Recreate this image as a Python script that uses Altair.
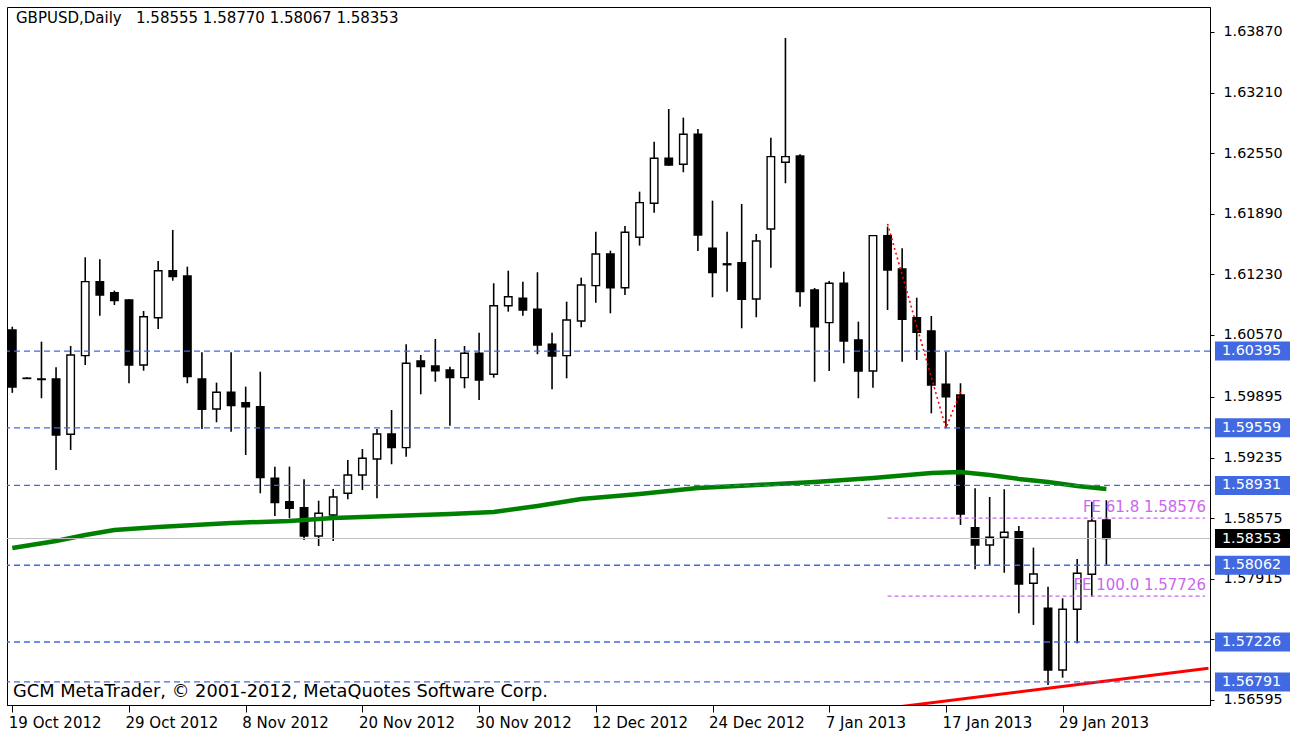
import altair as alt
import pandas as pd

# ---------------- data ----------------
opens = [1.60624, 1.60100, 1.60091, 1.60091, 1.59489, 1.60345, 1.61151, 1.61031, 1.60951, 1.60243,
         1.60758, 1.61270, 1.61213, 1.60091, 1.59764, 1.59946, 1.59833, 1.59789, 1.59009, 1.58754,
         1.58689, 1.58381, 1.58610, 1.58846, 1.59045, 1.59220, 1.59492, 1.59343, 1.60287, 1.60232,
         1.60189, 1.60105, 1.60371, 1.60142, 1.60889, 1.60970, 1.60850, 1.60469, 1.60345, 1.60723,
         1.61107, 1.61452, 1.61085, 1.61634, 1.62004, 1.62494, 1.62429, 1.62756, 1.61514, 1.61345,
         1.61357, 1.60962, 1.61724, 1.62451, 1.62520, 1.61060, 1.60704, 1.61133, 1.60516, 1.60178,
         1.61652, 1.61289, 1.60758, 1.60614, 1.60033, 1.59917, 1.58471, 1.58283, 1.58367, 1.58428,
         1.57866, 1.57594, 1.56922, 1.57583, 1.57964, 1.58555]
highs = [1.60660, 1.60110, 1.60497, 1.60218, 1.60450, 1.61416, 1.61394, 1.61053, 1.60960, 1.60831,
         1.61376, 1.61714, 1.61314, 1.60382, 1.60051, 1.60382, 1.60007, 1.60170, 1.59136, 1.59136,
         1.58998, 1.58765, 1.58893, 1.59209, 1.59328, 1.59546, 1.59753, 1.60469, 1.60352, 1.60526,
         1.60225, 1.60450, 1.60595, 1.61133, 1.61270, 1.61151, 1.61253, 1.60595, 1.60933, 1.61194,
         1.61695, 1.61488, 1.61757, 1.62131, 1.62675, 1.63031, 1.62937, 1.62814, 1.62033, 1.61695,
         1.61997, 1.61670, 1.62719, 1.63805, 1.62538, 1.61082, 1.61158, 1.61259, 1.60715, 1.61660,
         1.61750, 1.61514, 1.60976, 1.60777, 1.60388, 1.60044, 1.58900, 1.58806, 1.58890, 1.58490,
         1.58254, 1.57829, 1.57702, 1.58130, 1.58754, 1.58770]
lows = [1.59940, 1.60090, 1.59881, 1.59100, 1.59318, 1.60243, 1.60780, 1.60897, 1.60044, 1.60181,
        1.60635, 1.61161, 1.60044, 1.59546, 1.59619, 1.59517, 1.59263, 1.58846, 1.58599, 1.58574,
        1.58337, 1.58272, 1.58326, 1.58781, 1.58882, 1.58792, 1.59162, 1.59245, 1.59924, 1.60061,
        1.59582, 1.59990, 1.59862, 1.60105, 1.60824, 1.60780, 1.60360, 1.59979, 1.60098, 1.60654,
        1.60922, 1.60806, 1.61006, 1.61543, 1.61902, 1.62411, 1.62342, 1.61485, 1.60981, 1.61042,
        1.60643, 1.60763, 1.61303, 1.62222, 1.60878, 1.60061, 1.60178, 1.60262, 1.59881, 1.59996,
        1.60842, 1.60279, 1.60298, 1.59717, 1.59554, 1.58501, 1.58018, 1.58054, 1.57981, 1.57539,
        1.57412, 1.56758, 1.56838, 1.57212, 1.57720, 1.58067]
closes = [1.60004, 1.60096, 1.60085, 1.59481, 1.60352, 1.61151, 1.61006, 1.60944, 1.60243, 1.60769,
          1.61270, 1.61205, 1.60116, 1.59761, 1.59946, 1.59800, 1.59789, 1.59016, 1.58744, 1.58683,
          1.58381, 1.58628, 1.58806, 1.59045, 1.59227, 1.59492, 1.59343, 1.60262, 1.60225, 1.60181,
          1.60105, 1.60371, 1.60080, 1.60889, 1.60987, 1.60842, 1.60461, 1.60341, 1.60733, 1.61115,
          1.61452, 1.61085, 1.61689, 1.62011, 1.62494, 1.62421, 1.62756, 1.61659, 1.61249, 1.61335,
          1.60959, 1.61594, 1.62512, 1.62512, 1.61042, 1.60660, 1.61133, 1.60505, 1.60178, 1.61652,
          1.61278, 1.60741, 1.60599, 1.60025, 1.59898, 1.58621, 1.58283, 1.58367, 1.58421, 1.57858,
          1.57967, 1.56922, 1.57583, 1.57975, 1.58544, 1.58353]

ma_bars = [0, 3, 5, 7, 10, 15, 19, 22, 26, 30, 33, 36, 39, 43, 47, 51, 55, 59, 63, 65, 67, 69, 71, 73, 75]
ma_vals = [1.58250, 1.58327, 1.58392, 1.58446, 1.58479, 1.58523, 1.58544, 1.58577, 1.58599, 1.58621,
           1.58642, 1.58708, 1.58784, 1.58838, 1.58904, 1.58936, 1.58969, 1.59013, 1.59067, 1.59078,
           1.59045, 1.59002, 1.58969, 1.58925, 1.58893]

trend_bars = [60, 82]
trend_vals = [1.56505, 1.56940]

fibo_bars = [60, 64, 65]
fibo_vals = [1.61780, 1.59555, 1.59951]

level_prices = [1.60395, 1.59559, 1.58931, 1.58062, 1.57226, 1.56791]
current_price = 1.58353
fe_names = ["FE 61.8 1.58576", "FE 100.0 1.57726"]
fe_prices = [1.58576, 1.57726]
fe_start = 60

tick_values = [1.63870, 1.63210, 1.62550, 1.61890, 1.61230, 1.60570, 1.59895,
               1.59235, 1.58575, 1.57915, 1.57255, 1.56595]
date_bars = [0, 8, 16, 24, 32, 40, 48, 56, 64, 72]
date_labels = ["19 Oct 2012", "29 Oct 2012", "8 Nov 2012", "20 Nov 2012", "30 Nov 2012",
               "12 Dec 2012", "24 Dec 2012", "7 Jan 2013", "17 Jan 2013", "29 Jan 2013"]

header_name = "GBPUSD,Daily"
header_ohlc = ["1.58555", "1.58770", "1.58067", "1.58353"]
header = header_name + "\u00a0\u00a0\u00a0" + "\u00a0".join(header_ohlc)
copyright_text = "GCM MetaTrader, \u00a9 2001-2012, MetaQuotes Software Corp."

# ---------------- layout ----------------
W, H = 1203, 698
XMIN = -0.02
XMAX = XMIN + W / 14.71
YMIN, YMAX = 1.56540, 1.64142
PX = (YMAX - YMIN) / H
FONT = "DejaVu Sans"
FS = 14.3
BLUE = "#4169E1"
VIOLET = "#CC66EE"

candles = pd.DataFrame({"i": list(range(len(opens))), "o": opens, "h": highs, "l": lows, "c": closes})
ma_df = pd.DataFrame({"i": ma_bars, "p": ma_vals})
trend_df = pd.DataFrame({"i": trend_bars, "p": trend_vals})
fibo_df = pd.DataFrame({"i": fibo_bars, "p": fibo_vals})
levels_df = pd.DataFrame({"p": level_prices, "lab": [f"{v:.5f}" for v in level_prices]})
cur_df = pd.DataFrame({"p": [current_price], "lab": [f"{current_price:.5f}"]})
fe_df = pd.DataFrame({"i": [fe_start] * len(fe_prices), "i2": [XMAX] * len(fe_prices),
                      "p": fe_prices, "lab": fe_names})
head_df = pd.DataFrame({"t": [header]})
copy_df = pd.DataFrame({"t": [copyright_text]})

xs = alt.Scale(domain=[XMIN, XMAX], nice=False, zero=False)
ys = alt.Scale(domain=[YMIN, YMAX], nice=False, zero=False)

label_arr = "[" + ",".join(f"'{d}'" for d in date_labels) + "]"
x_axis = alt.Axis(values=date_bars, labelExpr=f"{label_arr}[round(datum.value/8)]",
                  labelAlign="left", labelBaseline="top", tickSize=7, labelPadding=3,
                  labelOffset=-4,
                  labelFont=FONT, labelFontSize=15, labelColor="black", tickColor="black",
                  domainColor="black", grid=False, title=None, labelFlush=False,
                  labelOverlap=False, labelBound=False)
y_axis = alt.Axis(orient="right", values=tick_values, format=".5f", tickSize=4, labelPadding=9,
                  labelFont=FONT, labelFontSize=FS, labelColor="black", tickColor="black",
                  domainColor="black", grid=False, title=None, labelOverlap=False,
                  labelFlush=False, labelBound=False)


def X(field):
    return alt.X(field, scale=xs, axis=x_axis, title=None)


def Y(field):
    return alt.Y(field, scale=ys, axis=y_axis, title=None)


wicks = alt.Chart(candles).mark_rule(color="black", strokeWidth=1.6, clip=True).encode(
    x=X("i:Q"), y=Y("l:Q"), y2="h:Q")
bodies = alt.Chart(candles).mark_bar(size=7.5, stroke="black", strokeWidth=1.4, clip=True).encode(
    x=X("i:Q"), y=Y("o:Q"), y2="c:Q",
    fill=alt.condition("datum.c < datum.o", alt.value("black"), alt.value("white")),
)
ma = alt.Chart(ma_df).mark_line(color="#008000", strokeWidth=4.5, clip=True).encode(
    x=X("i:Q"), y=Y("p:Q"))
trend = alt.Chart(trend_df).mark_line(color="#FF0000", strokeWidth=3, clip=True).encode(
    x=X("i:Q"), y=Y("p:Q"))
levels = alt.Chart(levels_df).mark_rule(color=BLUE, strokeWidth=1.3, strokeDash=[6, 4]).encode(
    y=Y("p:Q"))
cur = alt.Chart(cur_df).mark_rule(color="#C0C0C0", strokeWidth=1).encode(y=Y("p:Q"))
fe_lines = alt.Chart(fe_df).mark_rule(color=VIOLET, strokeWidth=1.2, strokeDash=[4, 3]).encode(
    x=X("i:Q"), x2="i2:Q", y=Y("p:Q"))
fibo = alt.Chart(fibo_df).mark_line(color="#FF0000", strokeWidth=1.6, strokeDash=[2, 3]).encode(
    x=X("i:Q"), y=Y("p:Q"))
fe_text = alt.Chart(fe_df).mark_text(align="right", baseline="bottom", dy=-3, font=FONT,
                                     fontSize=15, color=VIOLET).encode(
    x=alt.value(1199), y=Y("p:Q"), text="lab:N")

box_half = 9.5 * PX
lvl_box = alt.Chart(levels_df).transform_calculate(
    top=f"datum.p + {box_half}", bot=f"datum.p - {box_half}"
).mark_rect(color=BLUE).encode(
    x=alt.value(1208), x2=alt.value(1283), y=Y("top:Q"), y2="bot:Q")
lvl_txt = alt.Chart(levels_df).mark_text(align="left", baseline="middle", font=FONT, fontSize=FS,
                                         color="white").encode(
    x=alt.value(1215), y=Y("p:Q"), text="lab:N")
cur_box = alt.Chart(cur_df).transform_calculate(
    top=f"datum.p + {box_half}", bot=f"datum.p - {box_half}"
).mark_rect(color="black").encode(
    x=alt.value(1208), x2=alt.value(1283), y=Y("top:Q"), y2="bot:Q")
cur_txt = alt.Chart(cur_df).mark_text(align="left", baseline="middle", font=FONT, fontSize=FS,
                                      color="white").encode(
    x=alt.value(1215), y=Y("p:Q"), text="lab:N")

head = alt.Chart(head_df).mark_text(align="left", baseline="middle", font=FONT, fontSize=15,
                                    color="black").encode(
    x=alt.value(9), y=alt.value(11), text="t:N")
copy = alt.Chart(copy_df).mark_text(align="left", baseline="middle", font=FONT, fontSize=17.8,
                                    color="black").encode(
    x=alt.value(6), y=alt.value(685), text="t:N")

chart = alt.layer(
    wicks, bodies, ma, trend, levels, cur, fe_lines, fibo, fe_text,
    lvl_box, lvl_txt, cur_box, cur_txt, head, copy
).properties(
    width=W, height=H,
    padding={"left": 7, "top": 7, "right": 88, "bottom": 33},
    autosize=alt.AutoSizeParams(type="none"),
).configure(background="white").configure_view(stroke="black", strokeWidth=1)

chart.save("out.html", embed_options={"renderer": "svg", "actions": False})
